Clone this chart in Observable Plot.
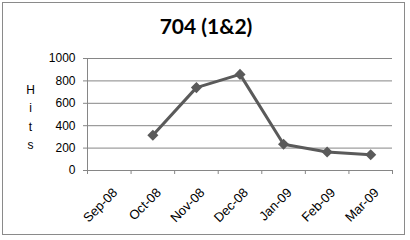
<!DOCTYPE html>
<html><head><meta charset="utf-8">
<script src="https://cdn.jsdelivr.net/npm/d3@7"></script>
<script src="https://cdn.jsdelivr.net/npm/@observablehq/plot@0.6"></script>
<style>
body{margin:0;background:#fff;}
#wrap{position:relative;width:410px;height:240px;}
#border{position:absolute;left:2px;top:2px;width:403px;height:233px;border:1px solid #8a8a8a;box-sizing:border-box;pointer-events:none;}
</style></head>
<body><div id="wrap"><div id="border"></div></div>
<script>
const months = ["Sep-08","Oct-08","Nov-08","Dec-08","Jan-09","Feb-09","Mar-09"];
const hits = [null, 315, 740, 858, 235, 165, 140];
const yTicks = [0, 200, 400, 600, 800, 1000];
const title = "704 (1&2)";
const yLabel = "H\ni\nt\ns";

const data = months.map((m, i) => ({m, i, v: hits[i]})).filter(d => d.v != null);
const centers = months.map((m, i) => i + 0.5);
const edges = months.map((m, i) => i).concat([months.length]);
const font = "Liberation Sans, Arial, sans-serif";

const chart = Plot.plot({
  width: 410, height: 240,
  marginLeft: 87, marginRight: 18, marginTop: 58, marginBottom: 70,
  style: {fontFamily: font, fontSize: "12px", color: "#000", background: "transparent"},
  x: {type: "linear", domain: [0, months.length]},
  y: {domain: [0, 1000]},
  marks: [
    Plot.gridY(yTicks.filter(t => t > 0), {stroke: "#868686", strokeOpacity: 1}),
    Plot.axisY({ticks: yTicks, tickSize: 4, tickPadding: 8, stroke: "#868686", label: null, fontSize: 12, tickFormat: d => String(d)}),
    Plot.axisX({ticks: edges, tickSize: 4, tickFormat: () => "", stroke: "#868686", label: null}),
    Plot.axisX({ticks: centers, tickSize: 0, tickFormat: d => months[Math.round(d - 0.5)], tickRotate: -45, tickPadding: 0, dx: 6, dy: 20, label: null, fontSize: 13}),
    Plot.ruleX([0], {stroke: "#868686"}),
    Plot.ruleY([0], {stroke: "#868686"}),
    Plot.line(data, {x: d => d.i + 0.5, y: "v", stroke: "#5a5a5a", strokeWidth: 3}),
    Plot.dot(data, {x: d => d.i + 0.5, y: "v", symbol: "diamond2", r: 5, fill: "#5a5a5a", stroke: "none"}),
    Plot.text([yLabel], {text: d => d, frameAnchor: "left", dx: -57, dy: 1, lineHeight: 1.55, fontSize: 12, textAnchor: "middle"}),
    Plot.text([title], {text: d => d, frameAnchor: "top", dy: -39, fontSize: 21, fontWeight: "bold", fontFamily: "Lato, sans-serif", textAnchor: "middle", dx: -34})
  ]
});
chart.style.position = "absolute";
chart.style.left = "0";
chart.style.top = "0";
document.getElementById("wrap").appendChild(chart);
</script></body></html>
